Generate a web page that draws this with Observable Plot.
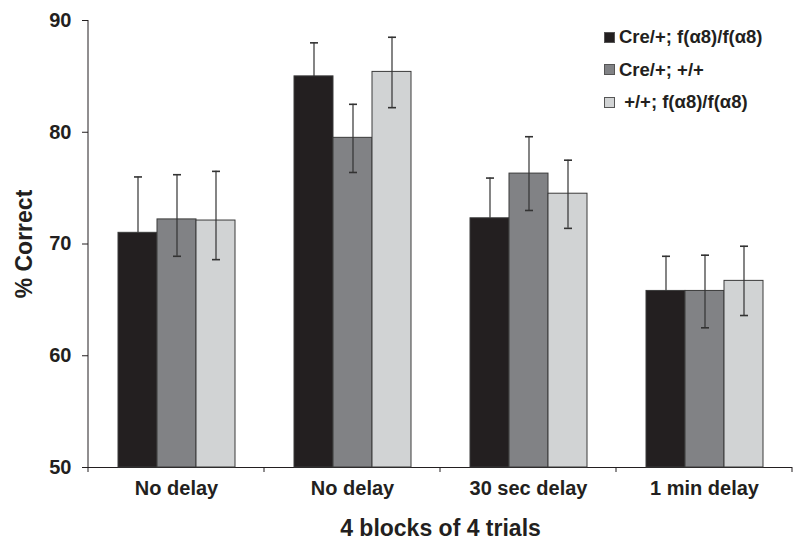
<!DOCTYPE html>
<html>
<head>
<meta charset="utf-8">
<script src="https://cdn.jsdelivr.net/npm/d3@7"></script>
<script src="https://cdn.jsdelivr.net/npm/@observablehq/plot@0.6"></script>
<style>
  html, body { margin: 0; padding: 0; background: white; }
  #wrap { position: relative; width: 800px; height: 546px; font-family: "Liberation Sans", Arial, sans-serif; }
  #legend { position: absolute; left: 604px; top: 26px; font-weight: bold; font-size: 18.5px; color: #231f20; }
  #legend .item { display: flex; align-items: center; height: 22px; margin-bottom: 10.5px; white-space: pre; }
  #legend .sw { width: 11px; height: 11px; border: 1px solid #555; margin-right: 4px; box-sizing: border-box; }
  g[aria-label="y-axis label"] text { font-size: 23px; }
  g[aria-label="fx-axis label"] text { font-size: 23px; }
</style>
</head>
<body>
<div id="wrap"><div id="legend"></div></div>
<script>
// ---- data ----
const groupLabels = ["No delay", "No delay", "30 sec delay", "1 min delay"];
const series = ["Cre/+; f(\u03b18)/f(\u03b18)", "Cre/+; +/+", "+/+; f(\u03b18)/f(\u03b18)"];
const legendLabels = ["Cre/+; f(\u03b18)/f(\u03b18)", "Cre/+; +/+", " +/+; f(\u03b18)/f(\u03b18)"];
const colors = ["#231f20", "#818285", "#d1d3d4"];
const meanCre = [71.0, 85.0, 72.3, 65.8];
const meanCreWT = [72.2, 79.5, 76.3, 65.8];
const meanFlox = [72.1, 85.4, 74.5, 66.7];
const hiCre = [76.0, 88.0, 75.9, 68.9];
const hiCreWT = [76.2, 82.5, 79.6, 69.0];
const hiFlox = [76.5, 88.5, 77.5, 69.8];
// lower whiskers of the black bars are not visible in the picture
const loCre = [71.0, 85.0, 72.3, 65.8];
const loCreWT = [68.9, 76.4, 73.0, 62.5];
const loFlox = [68.6, 82.2, 71.4, 63.6];
const yTicks = [50, 60, 70, 80, 90];

const means = [meanCre, meanCreWT, meanFlox];
const his = [hiCre, hiCreWT, hiFlox];
const los = [loCre, loCreWT, loFlox];
const groupIdx = groupLabels.map((_, i) => i);
const rows = [];
groupIdx.forEach(g => series.forEach((s, k) => rows.push({g, s, v: means[k][g], hi: his[k][g], lo: los[k][g]})));
const lowRows = rows.filter(d => d.lo < d.v);
const yMin = yTicks[0], yMax = yTicks[yTicks.length - 1];

const cap = {draw(ctx, size) { const w = Math.sqrt(size / Math.PI); ctx.moveTo(-w, 0); ctx.lineTo(w, 0); }};

const chart = Plot.plot({
  width: 800, height: 546,
  marginLeft: 86, marginRight: 7, marginTop: 20, marginBottom: 79,
  style: {fontFamily: "'Liberation Sans', Arial, sans-serif", fontWeight: "bold", fontSize: "20px", color: "#231f20", background: "white", overflow: "visible"},
  fx: {domain: groupIdx, padding: 0},
  x: {domain: series, paddingInner: 0, paddingOuter: 0.74, axis: null},
  y: {domain: [yMin, yMax]},
  color: {domain: series, range: colors},
  marks: [
    Plot.axisY({ticks: yTicks, tickSize: 6, tickPadding: 11, fontSize: 20, label: "% Correct", labelAnchor: "center", labelArrow: "none", labelOffset: 73}),
    Plot.axisFx({anchor: "bottom", tickSize: 0, tickPadding: 13, fontSize: 20, tickFormat: i => groupLabels[i], label: "4 blocks of 4 trials", labelAnchor: "center", labelArrow: "none", labelOffset: 68}),
    Plot.ruleY([yMin], {stroke: "#231f20"}),
    Plot.barY(rows, {fx: "g", x: "s", y1: yMin, y2: "v", fill: "s", stroke: "#3a3a3a", strokeWidth: 1}),
    Plot.ruleX(rows, {fx: "g", x: "s", y1: "lo", y2: "hi", stroke: "#333", strokeWidth: 1.2}),
    Plot.dot(rows, {fx: "g", x: "s", y: "hi", symbol: cap, r: 4, stroke: "#333", strokeWidth: 1.6, fill: "none"}),
    Plot.dot(lowRows, {fx: "g", x: "s", y: "lo", symbol: cap, r: 4, stroke: "#333", strokeWidth: 1.6, fill: "none"})
  ]
});

// y-axis line and category boundary ticks from the plot's scales
const fx = chart.scale("fx"), ys = chart.scale("y");
const svg = d3.select(chart);
const g = svg.append("g").attr("stroke", "#231f20").attr("stroke-width", 1);
const x0 = fx.apply(groupIdx[0]);
g.append("line").attr("x1", x0).attr("x2", x0).attr("y1", ys.apply(yMax)).attr("y2", ys.apply(yMin));
const edges = groupIdx.map(i => fx.apply(i)).concat([fx.apply(groupIdx[groupIdx.length - 1]) + fx.bandwidth]);
edges.forEach(x => g.append("line").attr("x1", x).attr("x2", x).attr("y1", ys.apply(yMin)).attr("y2", ys.apply(yMin) + 5));

document.getElementById("wrap").prepend(chart);

const legend = document.getElementById("legend");
legendLabels.forEach((t, k) => {
  const it = document.createElement("div"); it.className = "item";
  const sw = document.createElement("div"); sw.className = "sw"; sw.style.background = colors[k];
  const tx = document.createElement("span"); tx.textContent = t;
  it.append(sw, tx); legend.append(it);
});
</script>
</body>
</html>
